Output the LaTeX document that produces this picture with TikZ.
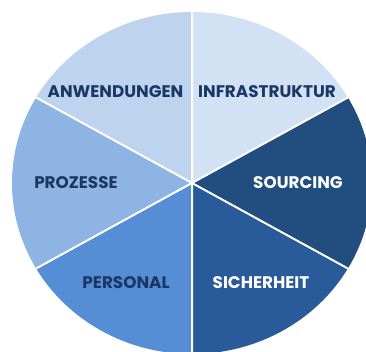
\documentclass[tikz,border=0pt]{standalone}
\usepackage{fontspec}
\setmainfont{Poppins}[BoldFont=* Bold]
\definecolor{infra}{HTML}{D2E1F3}
\definecolor{anw}{HTML}{BDD3EE}
\definecolor{proz}{HTML}{8EB4E3}
\definecolor{pers}{HTML}{558ED5}
\definecolor{sich}{HTML}{295A9A}
\definecolor{sourc}{HTML}{224D7F}
\definecolor{navy}{HTML}{1A3866}
\tikzset{
  label/.style={font=\fontsize{16.8}{18}\selectfont\bfseries, inner sep=0pt},
  dark/.style={label, text=navy},
  bright/.style={label, text=white}
}
\begin{document}
\begin{tikzpicture}[x=1pt,y=1pt]
			\useasboundingbox (0,0) rectangle (366,-352);
			\clip (0,0) rectangle (366,-352);
			\coordinate (o) at (192,-183) ;
			% slices
			\fill[infra] (o) -- +(30:180 and 171) arc[start angle=30, end angle=90, x radius=180, y radius=171] -- cycle;
			\fill[anw] (o) -- +(90:180 and 171) arc[start angle=90, end angle=150, x radius=180, y radius=171] -- cycle;
			\fill[proz] (o) -- +(150:180 and 171) arc[start angle=150, end angle=210, x radius=180, y radius=171] -- cycle;
			\fill[pers] (o) -- +(210:180 and 171) arc[start angle=210, end angle=270, x radius=180, y radius=171] -- cycle;
			\fill[sich] (o) -- +(270:180 and 171) arc[start angle=270, end angle=330, x radius=180, y radius=171] -- cycle;
			\fill[sourc] (o) -- +(330:180 and 171) arc[start angle=330, end angle=390, x radius=180, y radius=171] -- cycle;
			% white dividers
			\draw[white, line width=2pt] (o) -- +(30:180 and 171) (o) -- +(90:180 and 171) (o) -- +(150:180 and 171);
			\draw[white, line width=2pt] (o) -- +(210:180 and 171) (o) -- +(270:180 and 171) (o) -- +(330:180 and 171);
			% labels
			\node[dark] (anwendungen) at (115.5,-92) {ANWENDUNGEN};
			\node[dark] (infrastruktur) at (267,-92) {INFRASTRUKTUR};
			\node[dark] (prozesse) at (76,-183) {PROZESSE};
			\node[bright] (sourcing) at (298,-183) {SOURCING};
			\node[dark] (personal) at (126,-283) {PERSONAL};
			\node[bright] (sicherheit) at (261,-283) {SICHERHEIT};
		\end{tikzpicture}
\end{document}
